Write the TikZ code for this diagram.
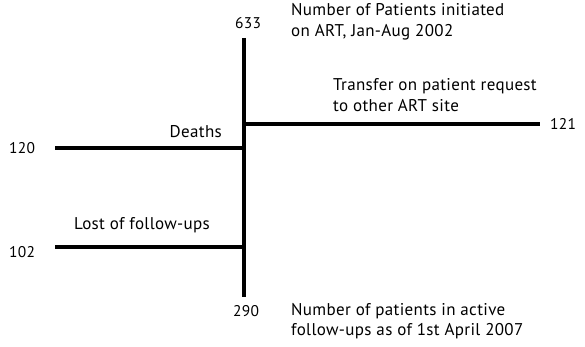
\documentclass[tikz,border=0pt]{standalone}
\usepackage{fontspec}
\setmainfont{PT Sans}[LetterSpace=2]
\begin{document}
\begin{tikzpicture}[x=1pt,y=-1pt,
  bar/.style={line width=3.2pt},
  lbl/.style={font=\fontsize{17}{20.5}\selectfont, inner sep=0pt},
  num/.style={font=\fontsize{15.5}{18}\selectfont, inner sep=0pt}]
\useasboundingbox (0,0) rectangle (585,347);
% trunk
\coordinate (top) at (244,38);
\coordinate (bot) at (244,297);
\coordinate (jT) at (244,124);
\coordinate (jD) at (244,148);
\coordinate (jL) at (244,247);
\coordinate (eT) at (540,124);
\coordinate (eD) at (55,148);
\coordinate (eL) at (55,247);
\draw[bar] (top) -- (bot);
\draw[bar] (jT) -- (eT);
\draw[bar] (jD) -- (eD);
\draw[bar] (jL) -- (eL);
% labels
\node[num] (n633) at (248,23) {633};
\node[lbl, anchor=west, align=left] (start) at (291,22) {Number of Patients initiated\\on ART, Jan-Aug 2002};
\node[lbl, anchor=west, align=left] (transfer) at (333,95) {Transfer on patient request\\to other ART site};
\node[num, anchor=west] (n121) at (550,124) {121};
\node[lbl, anchor=east] (deaths) at (222,132) {Deaths};
\node[num, anchor=west] (n120) at (9,148) {120};
\node[lbl] (lost) at (142,225) {Lost of follow-ups};
\node[num, anchor=west] (n102) at (9,252) {102};
\node[num] (n290) at (246,311) {290};
\node[lbl, anchor=west, align=left] (active) at (291,321) {Number of patients in active\\follow-ups as of 1st April 2007};
\end{tikzpicture}
\end{document}
